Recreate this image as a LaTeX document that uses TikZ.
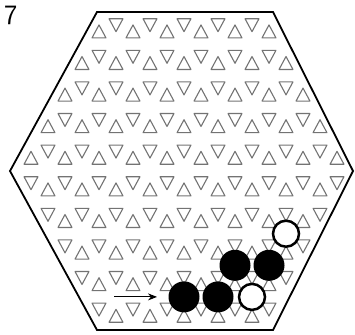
\documentclass[tikz,border=0pt]{standalone}
\usetikzlibrary{arrows.meta}
\begin{document}
\begin{tikzpicture}[x=1pt,y=-1pt,
  hexedge/.style={line width=1.8pt,line join=miter},
  tri/.style={draw=black!55,line width=1.1pt,line join=round},
  blackstone/.style={circle,fill=black,minimum size=31pt,inner sep=0pt},
  whitestone/.style={circle,draw=black,line width=2.5pt,fill=white,minimum size=26pt,inner sep=0pt},
  arr/.style={-{Stealth[length=9pt,width=7pt]},line width=0.9pt},
  numlabel/.style={anchor=north west,inner sep=1pt,font=\sffamily\fontsize{28}{28}\selectfont}]
\useasboundingbox (0,0) rectangle (355,334);
\def\xc{184}\def\yc{170.5}\def\la{34}\def\lh{31.6}\def\sc{0.41}
% triangle pattern
\foreach \k in {-5,...,4}{
  \foreach \j in {-6,...,6}{
    \pgfmathsetmacro{\ud}{\j+(\k+1)/2}
    \pgfmathsetmacro{\vd}{\k+1/3}
    \pgfmathtruncatemacro{\ind}{(abs(\ud)+abs(\vd)/2<5) ? 1 : 0}
    \ifnum\ind=1
      \draw[tri] ({\xc+\ud*\la-\sc*\la/2},{\yc+\vd*\lh-\sc*\lh/3}) -- ++({\sc*\la},0) -- ++({-\sc*\la/2},{\sc*\lh}) -- cycle;
    \fi
    \pgfmathsetmacro{\uu}{\j+\k/2}
    \pgfmathsetmacro{\vu}{\k+2/3}
    \pgfmathtruncatemacro{\inu}{(abs(\uu)+abs(\vu)/2<5) ? 1 : 0}
    \ifnum\inu=1
      \draw[tri] ({\xc+\uu*\la-\sc*\la/2},{\yc+\vu*\lh+\sc*\lh/3}) -- ++({\sc*\la},0) -- ++({-\sc*\la/2},{-\sc*\lh}) -- cycle;
    \fi
  }
}
% hexagon
\coordinate (h1) at (97,12);
\coordinate (h2) at (273,12);
\coordinate (h3) at (353,171);
\coordinate (h4) at (273,330);
\coordinate (h5) at (97,330);
\coordinate (h6) at (10,171);
\draw[hexedge] (h1) -- (h2) -- (h3) -- (h4) -- (h5) -- (h6) -- cycle;
% stones
\node[blackstone] (b1) at ({\xc},{\yc+4*\lh}) {};
\node[blackstone] (b2) at ({\xc+\la},{\yc+4*\lh}) {};
\node[whitestone] (w1) at ({\xc+2*\la},{\yc+4*\lh}) {};
\node[blackstone] (b3) at ({\xc+1.5*\la},{\yc+3*\lh}) {};
\node[blackstone] (b4) at ({\xc+2.5*\la},{\yc+3*\lh}) {};
\node[whitestone] (w2) at ({\xc+3*\la},{\yc+2*\lh}) {};
% arrow
\coordinate (arrS) at (114,{\yc+4*\lh});
\coordinate (arrE) at (157,{\yc+4*\lh});
\draw[arr] (arrS) -- (arrE);
% figure number
\node[numlabel] (num) at (3,5) {7};
\end{tikzpicture}
\end{document}
